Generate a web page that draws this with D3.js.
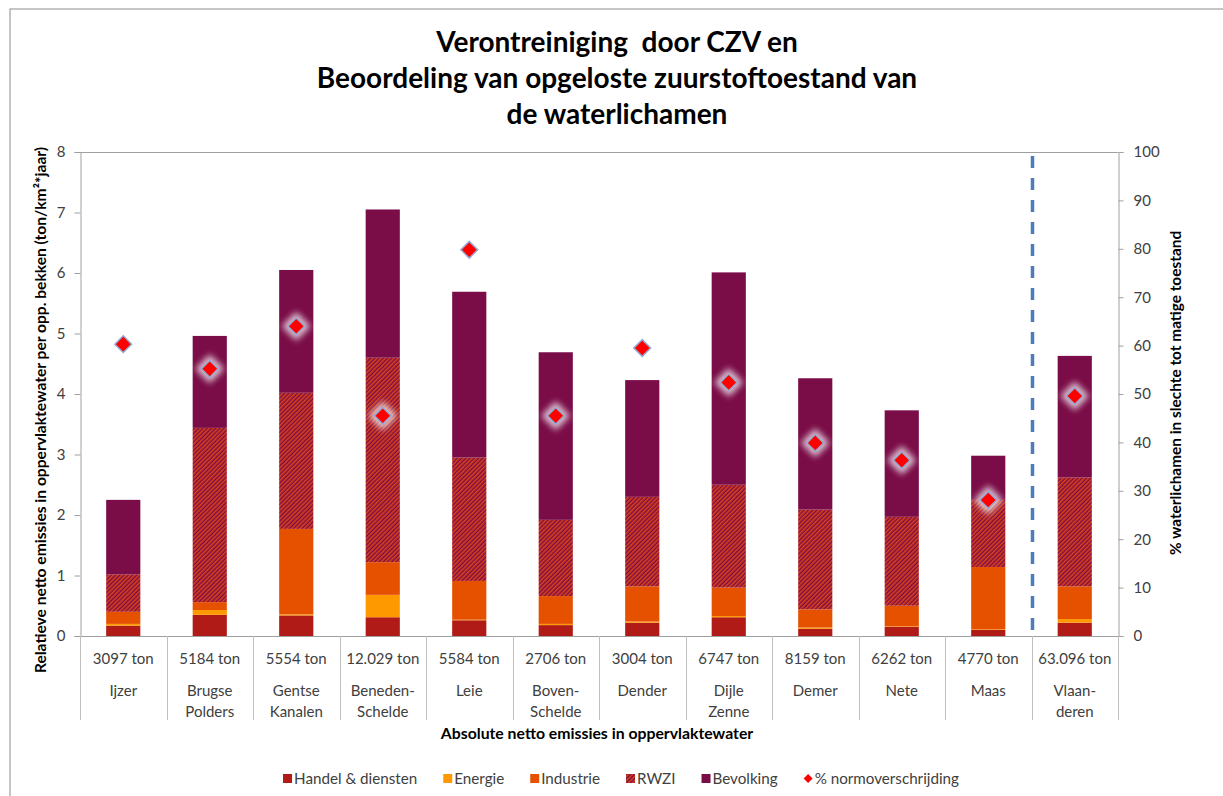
<!DOCTYPE html>
<html><head><meta charset="utf-8">
<script src="https://cdn.jsdelivr.net/npm/d3@7"></script>
<style>
body{margin:0;background:#fff}
svg text{font-family:Lato,"Noto Sans",sans-serif}
</style>
</head><body>
<svg id="c" width="1223" height="796"></svg>
<script>
// ---- data ----
const regionLines = [["Ijzer"],["Brugse","Polders"],["Gentse","Kanalen"],["Beneden-","Schelde"],["Leie"],["Boven-","Schelde"],["Dender"],["Dijle","Zenne"],["Demer"],["Nete"],["Maas"],["Vlaan-","deren"]];
const tonnages = ["3097 ton","5184 ton","5554 ton","12.029 ton","5584 ton","2706 ton","3004 ton","6747 ton","8159 ton","6262 ton","4770 ton","63.096 ton"];
const handel    = [0.17,0.35,0.34,0.31,0.26,0.18,0.22,0.31,0.12,0.15,0.10,0.22];
const energie   = [0.03,0.08,0.02,0.37,0.01,0.02,0.02,0.02,0.02,0.01,0.01,0.06];
const industrie = [0.20,0.13,1.41,0.54,0.64,0.46,0.58,0.47,0.30,0.34,1.03,0.54];
const rwzi      = [0.62,2.88,2.25,3.38,2.04,1.26,1.48,1.70,1.65,1.47,1.11,1.80];
const bevolking = [1.23,1.52,2.03,2.45,2.74,2.77,1.93,3.51,2.17,1.76,0.73,2.01];
const normPct   = [60.3,55.2,64.0,45.5,79.8,45.5,59.5,52.4,39.9,36.3,28.1,49.6];
const leftTicks = [0,1,2,3,4,5,6,7,8];
const rightTicks = [0,10,20,30,40,50,60,70,80,90,100];
const seriesNames = ["Handel & diensten","Energie","Industrie","RWZI","Bevolking"];
const seriesKeys = ["handel","energie","industrie","rwzi","bevolking"];
const titleLines = ["Verontreiniging  door CZV en","Beoordeling van opgeloste zuurstoftoestand van","de waterlichamen"];

// ---- setup ----
const svg = d3.select("#c");
const colors = {handel:"#b01a17", energie:"#ff9900", industrie:"#e65100", rwzi:"url(#hatch)", bevolking:"#7a0c47"};
const defs = svg.append("defs");
const pat = defs.append("pattern").attr("id","hatch").attr("patternUnits","userSpaceOnUse")
  .attr("width",3).attr("height",3).attr("patternTransform","rotate(45)");
pat.append("rect").attr("width",3).attr("height",3).attr("fill","#7a0c47");
pat.append("rect").attr("width",1.6).attr("height",3).attr("fill","#d8411a");
const glow = defs.append("filter").attr("id","glow").attr("x","-100%").attr("y","-100%").attr("width","300%").attr("height","300%");
glow.append("feGaussianBlur").attr("stdDeviation",3);

svg.append("rect").attr("x",10).attr("y",9).attr("width",1230).attr("height",800)
  .attr("fill","#fff").attr("stroke","#8c8c8c").attr("stroke-width",1);

// title
svg.append("g").selectAll("text").data(titleLines).join("text")
  .attr("x",617).attr("y",(d,i)=>52+i*36).attr("text-anchor","middle")
  .attr("font-size",28).attr("font-weight","bold").attr("fill","#000")
  .style("white-space","pre").attr("xml:space","preserve")
  .text(d=>d);

const L=80,R=1118,T=152,B=636;
const x = d3.scaleBand().domain(d3.range(regionLines.length)).range([L,R]).padding(0);
const y = d3.scaleLinear().domain([0,8]).range([B,T]);
const yR = d3.scaleLinear().domain([0,100]).range([B,T]);
const barW = x.bandwidth()*0.395;

const rows = regionLines.map((r,i)=>({i, handel:handel[i], energie:energie[i], industrie:industrie[i], rwzi:rwzi[i], bevolking:bevolking[i]}));
const stacked = d3.stack().keys(seriesKeys)(rows);

svg.append("g").selectAll("g").data(stacked).join("g")
  .attr("fill",d=>colors[d.key])
  .selectAll("rect").data(d=>d).join("rect")
  .attr("x",d=>x(d.data.i)+(x.bandwidth()-barW)/2)
  .attr("width",barW)
  .attr("y",d=>y(d[1]))
  .attr("height",d=>y(d[0])-y(d[1]));

// plot frame
const axisCol="#a0a0a0";
svg.append("line").attr("x1",L).attr("x2",R).attr("y1",T+0.5).attr("y2",T+0.5).attr("stroke",axisCol);
const gl = svg.append("g").attr("transform",`translate(${L+0.5},0)`)
  .call(d3.axisLeft(y).tickValues(leftTicks).tickSize(6).tickPadding(9).tickFormat(d3.format("d")));
const gr = svg.append("g").attr("transform",`translate(${R+0.5},0)`)
  .call(d3.axisRight(yR).tickValues(rightTicks).tickSize(5).tickPadding(10).tickFormat(d3.format("d")));
[gl,gr].forEach(g=>{
  g.select(".domain").attr("stroke",axisCol);
  g.selectAll(".tick line").attr("stroke",axisCol);
  g.selectAll(".tick text").attr("fill","#404040").attr("font-size",15).style("font-family","Lato,sans-serif");
});
svg.append("line").attr("x1",L).attr("x2",R).attr("y1",B+0.5).attr("y2",B+0.5).attr("stroke",axisCol);
const bnds = d3.range(regionLines.length+1).map(i=> i<regionLines.length ? x(i) : x(i-1)+x.bandwidth());
svg.append("g").selectAll("line").data(bnds).join("line")
  .attr("x1",d=>Math.round(d)+0.5).attr("x2",d=>Math.round(d)+0.5).attr("y1",B).attr("y2",720)
  .attr("stroke","#bfbfbf");
const cat = svg.append("g").selectAll("g").data(regionLines).join("g")
  .attr("transform",(d,i)=>`translate(${x(i)+x.bandwidth()/2},0)`);
cat.append("text").attr("y",664).attr("text-anchor","middle").attr("font-size",15).attr("fill","#404040")
  .text((d,i)=>tonnages[i]);
cat.selectAll("text.n").data(d=>d).join("text").attr("class","n")
  .attr("y",(d,j)=>696+j*21).attr("text-anchor","middle").attr("font-size",15).attr("fill","#404040")
  .text(d=>d);

// dashed separator between Maas and Vlaanderen
svg.append("line").attr("x1",x(11)+1).attr("x2",x(11)+1).attr("y1",T+4).attr("y2",B)
  .attr("stroke","#4a7ebb").attr("stroke-width",3.5).attr("stroke-dasharray","12,10");

// diamonds
const dsym = d3.symbol().type(d3.symbolSquare).size(140);
const dg = svg.append("g").selectAll("g").data(normPct).join("g")
  .attr("transform",(d,i)=>`translate(${x(i)+x.bandwidth()/2},${yR(d)}) rotate(45)`);
dg.append("path").attr("d",d3.symbol().type(d3.symbolSquare).size(420)()).attr("fill","#fff").attr("opacity",0.75).attr("filter","url(#glow)");
dg.append("path").attr("d",dsym()).attr("fill","#ff0000").attr("stroke","#93a9d2").attr("stroke-width",1.5);

// axis titles
svg.append("text").attr("transform","translate(46,410) rotate(-90)").attr("text-anchor","middle")
  .attr("font-size",15.6).attr("font-weight","bold").attr("fill","#000")
  .text("Relatieve netto emissies in oppervlaktewater per opp. bekken (ton/km²*jaar)");
svg.append("text").attr("transform","translate(1181,393) rotate(-90)").attr("text-anchor","middle")
  .attr("font-size",15.4).attr("font-weight","bold").attr("fill","#000")
  .text("% waterlichamen in slechte tot matige toestand");
svg.append("text").attr("x",597).attr("y",739).attr("text-anchor","middle")
  .attr("font-size",15.8).attr("font-weight","bold").attr("fill","#000")
  .text("Absolute netto emissies in oppervlaktewater");

// legend
const leg = svg.append("g");
const legItems = seriesKeys.map((k,i)=>({name:seriesNames[i], fill:colors[k], type:"sq"}))
  .concat([{name:"% normoverschrijding", fill:"#ff0000", type:"dia"}]);
let lx = 0;
const lg = leg.selectAll("g").data(legItems).join("g");
lg.each(function(d){
  const g = d3.select(this);
  if(d.type==="sq") g.append("rect").attr("x",0).attr("y",-10).attr("width",9).attr("height",9).attr("fill",d.fill);
  else g.append("path").attr("transform","translate(4.5,-5.5) rotate(45)").attr("d",d3.symbol().type(d3.symbolSquare).size(40)()).attr("fill",d.fill);
  const t = g.append("text").attr("x",11).attr("y",0).attr("font-size",15.2).attr("fill","#404040").text(d.name);
  d.w = 11 + t.node().getComputedTextLength();
});
legItems.forEach(d=>{d.x=lx; lx+=d.w+26;});
const total = lx-26;
lg.attr("transform",d=>`translate(${621-total/2+d.x},784)`);
</script>
</body></html>
